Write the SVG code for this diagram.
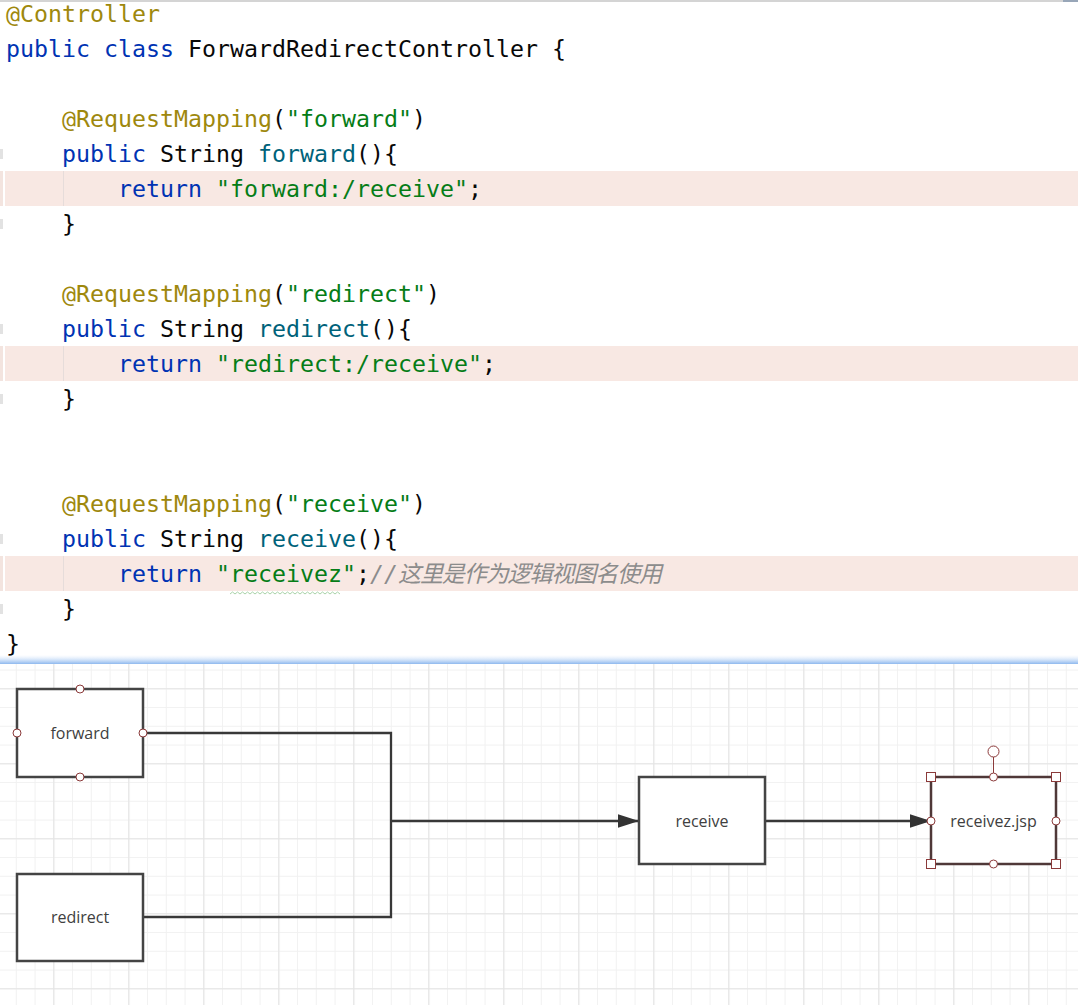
<svg xmlns="http://www.w3.org/2000/svg" width="1078" height="1005" viewBox="0 0 1078 1005">
<style>
.code{font-family:"DejaVu Sans Mono","Liberation Mono",monospace;font-size:23.25px;fill:#080808}
.an{fill:#9E880D}
.kw{fill:#0033B3}
.st{fill:#067D17}
.fn{fill:#00627A}
.cm{fill:#8C8C8C;font-style:italic}
.cjk{font-family:"Noto Sans CJK SC","DejaVu Sans Mono",sans-serif;font-size:23px;fill:#8C8C8C;font-style:italic}
.hl{fill:#F8E8E3}
.node rect{fill:#fff;stroke:#444;stroke-width:2.5}
.lbl{font-family:"Open Sans","Noto Sans",sans-serif;font-size:16px;fill:#404040;text-anchor:middle;dominant-baseline:central}
.pt{fill:#fff;stroke:#8B3A3A;stroke-width:1}
.edge{fill:none;stroke:#383838;stroke-width:2.3}
</style>
<defs>
<pattern id="gmin" patternUnits="userSpaceOnUse" x="53.3" y="688.3" width="18.75" height="18.75">
<path d="M0.5,0 V18.75 M0,0.5 H18.75" stroke="#f1f1f1" stroke-width="1" fill="none"/>
</pattern>
<pattern id="gmaj" patternUnits="userSpaceOnUse" x="53.3" y="688.3" width="75" height="75">
<path d="M0.5,0 V75 M0,0.5 H75" stroke="#e4e4e4" stroke-width="1.2" fill="none"/>
</pattern>
<linearGradient id="sep" x1="0" y1="0" x2="0" y2="1">
<stop offset="0" stop-color="#cfe2fa" stop-opacity="0"/>
<stop offset="1" stop-color="#8db8ee" stop-opacity="1"/>
</linearGradient>
<marker id="arr" markerUnits="userSpaceOnUse" markerWidth="22" markerHeight="14" refX="21" refY="7" orient="auto">
<path d="M0,0.3 L21,7 L0,13.7 z" fill="#333"/>
</marker>
</defs>

<!-- code editor -->
<g id="editor">
<rect x="0" y="0" width="1078" height="664" fill="#fff"/>
<rect x="0" y="0" width="1063" height="2" fill="#d4d4d4"/>
<rect x="1063" y="0" width="15" height="2" fill="#98a6b8"/>
<rect class="hl" x="5" y="171" width="1073" height="35"/>
<rect class="hl" x="5" y="346" width="1073" height="35"/>
<rect class="hl" x="5" y="556" width="1073" height="35"/>
<rect x="0" y="171" width="3" height="35" fill="#f3e4df"/>
<rect x="0" y="346" width="3" height="35" fill="#f3e4df"/>
<rect x="0" y="556" width="3" height="35" fill="#f3e4df"/>
<g fill="#e2e2e2">
<rect x="0" y="149" width="3" height="10"/>
<rect x="0" y="219" width="3" height="10"/>
<rect x="0" y="324" width="3" height="10"/>
<rect x="0" y="394" width="3" height="10"/>
<rect x="0" y="534" width="3" height="10"/>
<rect x="0" y="604" width="3" height="10"/>
</g>
<g stroke="#e6dcda" stroke-width="1">
<line x1="63.5" y1="171" x2="63.5" y2="206"/>
<line x1="63.5" y1="346" x2="63.5" y2="381"/>
<line x1="63.5" y1="556" x2="63.5" y2="591"/>
</g>
<text class="code" x="6" y="22"><tspan class="an">@Controller</tspan></text>
<text class="code" x="6" y="57"><tspan class="kw">public</tspan> <tspan class="kw">class</tspan> ForwardRedirectController {</text>
<text class="code" x="62" y="127"><tspan class="an">@RequestMapping</tspan>(<tspan class="st">"forward"</tspan>)</text>
<text class="code" x="62" y="162"><tspan class="kw">public</tspan> String <tspan class="fn">forward</tspan>(){</text>
<text class="code" x="118" y="197"><tspan class="kw">return</tspan> <tspan class="st">"forward:/receive"</tspan>;</text>
<text class="code" x="62" y="232">}</text>
<text class="code" x="62" y="302"><tspan class="an">@RequestMapping</tspan>(<tspan class="st">"redirect"</tspan>)</text>
<text class="code" x="62" y="337"><tspan class="kw">public</tspan> String <tspan class="fn">redirect</tspan>(){</text>
<text class="code" x="118" y="372"><tspan class="kw">return</tspan> <tspan class="st">"redirect:/receive"</tspan>;</text>
<text class="code" x="62" y="407">}</text>
<text class="code" x="62" y="512"><tspan class="an">@RequestMapping</tspan>(<tspan class="st">"receive"</tspan>)</text>
<text class="code" x="62" y="547"><tspan class="kw">public</tspan> String <tspan class="fn">receive</tspan>(){</text>
<text class="code" x="118" y="582"><tspan class="kw">return</tspan> <tspan class="st">"receivez"</tspan>;<tspan class="cm">//</tspan></text>
<text class="cjk" x="398" y="582" textLength="264" lengthAdjust="spacing">这里是作为逻辑视图名使用</text>
<path d="M230,594 l2.5,-2 l2.5,2 l2.5,-2 l2.5,2 l2.5,-2 l2.5,2 l2.5,-2 l2.5,2 l2.5,-2 l2.5,2 l2.5,-2 l2.5,2 l2.5,-2 l2.5,2 l2.5,-2 l2.5,2 l2.5,-2 l2.5,2 l2.5,-2 l2.5,2 l2.5,-2 l2.5,2 l2.5,-2 l2.5,2 l2.5,-2 l2.5,2 l2.5,-2 l2.5,2 l2.5,-2 l2.5,2 l2.5,-2 l2.5,2 l2.5,-2 l2.5,2 l2.5,-2 l2.5,2 l2.5,-2 l2.5,2 l2.5,-2 l2.5,2 l2.5,-2 l2.5,2 l2.5,-2 l2.5,2" fill="none" stroke="#a9d3a9" stroke-width="1"/>
<text class="code" x="62" y="617">}</text>
<text class="code" x="6" y="652">}</text>
</g>

<!-- canvas -->
<g id="canvas">
<rect x="0" y="664" width="1078" height="341" fill="#fff"/>
<rect x="0" y="664" width="1078" height="341" fill="url(#gmin)"/>
<rect x="0" y="664" width="1078" height="341" fill="url(#gmaj)"/>
<rect x="0" y="655" width="1078" height="9" fill="url(#sep)"/>
</g>

<g id="connectors">
<polyline class="edge" points="143,733 391,733 391,821"/>
<polyline class="edge" points="143,917 391,917 391,821"/>
<line class="edge" x1="391" y1="821" x2="639" y2="821" stroke-width="3" marker-end="url(#arr)"/>
<line class="edge" x1="765" y1="821" x2="931" y2="821" marker-end="url(#arr)"/>
</g>

<g id="node-forward" class="node">
<rect x="17" y="689" width="126" height="88"/>
<text class="lbl" x="80" y="733">forward</text>
<circle class="pt" cx="80" cy="689" r="4"/>
<circle class="pt" cx="80" cy="777" r="4"/>
<circle class="pt" cx="17" cy="733" r="4"/>
<circle class="pt" cx="143" cy="733" r="4"/>
</g>

<g id="node-redirect" class="node">
<rect x="17" y="874" width="126" height="87"/>
<text class="lbl" x="80" y="917">redirect</text>
</g>

<g id="node-receive" class="node">
<rect x="639" y="777" width="126" height="87"/>
<text class="lbl" x="702" y="821">receive</text>
</g>

<g id="node-receivez" class="node">
<rect x="931" y="777" width="125" height="87" style="stroke:#4f3838"/>
<text class="lbl" x="993.5" y="821">receivez.jsp</text>
<line x1="993.5" y1="757" x2="993.5" y2="777" stroke="#8B3A3A" stroke-width="1"/>
<circle class="pt" cx="993.5" cy="751.5" r="5.5"/>
<circle class="pt" cx="993.5" cy="777" r="4"/>
<circle class="pt" cx="993.5" cy="864" r="4"/>
<circle class="pt" cx="931" cy="821" r="4"/>
<circle class="pt" cx="1056" cy="821" r="4"/>
<rect class="pt" x="926.5" y="772.5" width="9" height="9" style="stroke:#8B3A3A;stroke-width:1"/>
<rect class="pt" x="1051.5" y="772.5" width="9" height="9" style="stroke:#8B3A3A;stroke-width:1"/>
<rect class="pt" x="926.5" y="859.5" width="9" height="9" style="stroke:#8B3A3A;stroke-width:1"/>
<rect class="pt" x="1051.5" y="859.5" width="9" height="9" style="stroke:#8B3A3A;stroke-width:1"/>
</g>
</svg>
